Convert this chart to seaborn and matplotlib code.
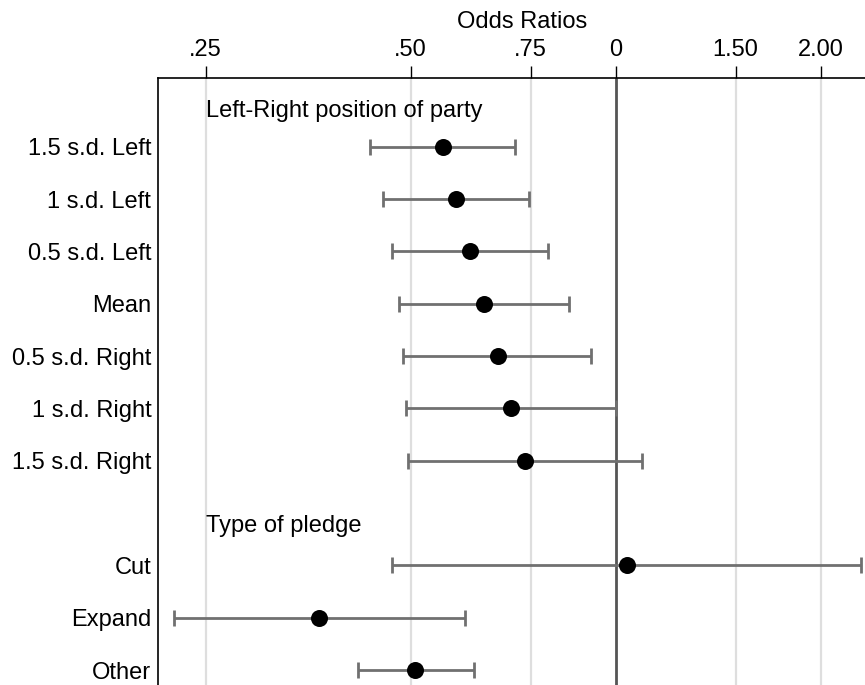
import numpy as np
import pandas as pd
import matplotlib
matplotlib.use("Agg")
import matplotlib.pyplot as plt
import seaborn as sns

# odds ratios with 95% CI
party_labels = ["1.5 s.d. Left", "1 s.d. Left", "0.5 s.d. Left", "Mean",
                "0.5 s.d. Right", "1 s.d. Right", "1.5 s.d. Right"]
party_or = [0.557, 0.583, 0.611, 0.640, 0.671, 0.702, 0.736]
party_lo = [0.436, 0.455, 0.470, 0.481, 0.488, 0.492, 0.495]
party_hi = [0.711, 0.747, 0.795, 0.853, 0.921, 1.001, 1.094]

pledge_labels = ["Cut", "Expand", "Other"]
pledge_or = [1.038, 0.367, 0.508]
pledge_lo = [0.470, 0.225, 0.418]
pledge_hi = [2.291, 0.600, 0.619]

tick_values = [0.25, 0.50, 0.75, 1.0, 1.50, 2.00]
tick_labels = [".25", ".50", ".75", "0", "1.50", "2.00"]

header_party = "Left-Right position of party"
header_pledge = "Type of pledge"

# build a tidy frame, leaving one empty row between the two groups
pos_party = list(range(len(party_labels)))
pos_pledge = [len(party_labels) + 1 + i for i in range(len(pledge_labels))]
df = pd.DataFrame({
    "label": party_labels + pledge_labels,
    "odds": party_or + pledge_or,
    "lo": party_lo + pledge_lo,
    "hi": party_hi + pledge_hi,
    "pos": pos_party + pos_pledge,
})

sns.set_style("white")
plt.rcParams['font.family'] = ['Liberation Sans', 'DejaVu Sans']
plt.rcParams['font.size'] = 17
plt.rcParams['text.color'] = 'black'
plt.rcParams['xtick.color'] = 'black'
plt.rcParams['ytick.color'] = 'black'
plt.rcParams['axes.labelcolor'] = 'black'

fig = plt.figure(figsize=(8.65, 6.85), dpi=100)
ax = fig.add_axes([0.1829, -0.0164, 0.8423, 0.9025])

ax.set_xscale("log")
ax.set_xlim(0.213, 2.5)
ax.set_ylim(10.5, -1.313)

# grid and reference line at OR = 1
for v in tick_values:
    if v != 1.0:
        ax.axvline(v, color="#dedede", lw=1.6, zorder=0)
ax.axvline(1.0, color="#555555", lw=2.0, zorder=1)

# confidence intervals
ax.errorbar(df["odds"], df["pos"],
            xerr=[df["odds"] - df["lo"], df["hi"] - df["odds"]],
            fmt="none", ecolor="#707070", elinewidth=2.0,
            capsize=6, capthick=2.0, zorder=2)

# point estimates
sns.scatterplot(data=df, x="odds", y="pos", ax=ax, color="black",
                s=150, edgecolor="black", linewidth=0, zorder=3, legend=False)

# group headers
ax.text(0.25, -0.57, header_party, ha="left", va="baseline", fontsize=17)
ax.text(0.25, pos_pledge[0] - 0.64, header_pledge, ha="left", va="baseline", fontsize=17)

# x axis on top
ax.xaxis.tick_top()
ax.xaxis.set_label_position("top")
ax.set_xticks(tick_values)
ax.set_xticklabels(tick_labels)
ax.xaxis.set_minor_locator(matplotlib.ticker.NullLocator())
ax.tick_params(axis="x", which="major", direction="out", length=9, width=1,
               color="black", pad=3.4, labelsize=17, top=True, bottom=False)
ax.set_xlabel("Odds Ratios", fontsize=17, labelpad=8)

# y axis labels
ax.set_yticks(df["pos"])
ax.set_yticklabels(df["label"])
ax.tick_params(axis="y", length=0, pad=5, labelsize=17)
ax.set_ylabel("")

for side in ["right", "bottom"]:
    ax.spines[side].set_visible(False)
for side in ["left", "top"]:
    ax.spines[side].set_color("black")
    ax.spines[side].set_linewidth(1.2)

fig.savefig("out.png", dpi=100)
